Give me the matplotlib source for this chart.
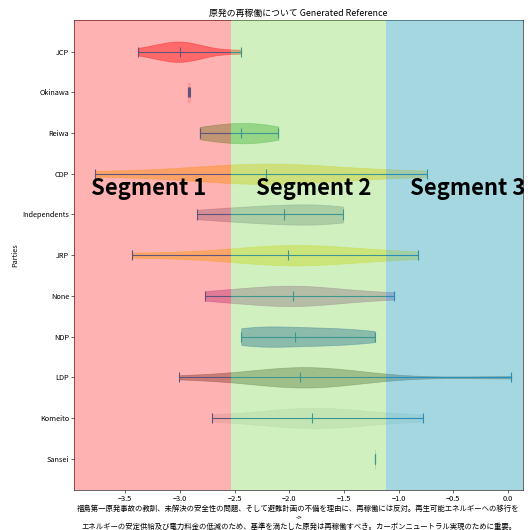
import matplotlib
matplotlib.use('Agg')
import matplotlib.pyplot as plt

plt.rcParams['font.family'] = ['Noto Sans CJK JP', 'DejaVu Sans']

# 政党ごとのスコア
parties = ['JCP', 'Okinawa', 'Reiwa', 'CDP', 'Independents', 'JRP',
           'None', 'NDP', 'LDP', 'Komeito', 'Sansei']
jcp = [-3.38, -3.2, -3.1, -3.05, -3.0, -2.97, -2.9, -2.8, -2.44]
okinawa = [-2.93, -2.91]
reiwa = [-2.82, -2.6, -2.44, -2.3, -2.1]
cdp = [-3.78, -2.6, -2.4, -2.21, -2.0, -1.8, -0.74]
independents = [-2.84, -2.5, -2.2, -2.05, -1.8, -1.6, -1.51]
jrp = [-3.44, -2.3, -2.1, -2.01, -1.8, -1.6, -0.82]
none = [-2.77, -2.4, -2.1, -1.97, -1.85, -1.6, -1.04]
ndp = [-2.44, -2.35, -2.2, -1.95, -1.7, -1.5, -1.22]
ldp = [-3.01, -2.5, -2.2, -2.05, -1.95, -1.9, -1.9, -1.85, -1.75, -1.65, -1.5, -1.3, 0.03]
komeito = [-2.71, -2.1, -1.9, -1.79, -1.6, -1.4, -0.78]
sansei = [-1.22]

body_colors = ['#ff3030', '#ffc0c0', '#4caf50', '#f9d12d', '#9199af', '#f5e12d',
               '#b165b5', '#2a5fc0', '#6a6a5c', '#d7e1db', '#999999']

# 背景のセグメント
seg_edges = [-4.5, -2.53, -1.115, 1.0]
seg_colors = ['#ff0000', '#79d44b', '#37a8bc']
seg_alphas = [0.3, 0.35, 0.45]
seg_labels = ['Segment 1', 'Segment 2', 'Segment 3']
seg_label_x = [-3.29, -1.78, -0.37]

xlabel = ('福島第一原発事故の教訓、未解決の安全性の問題、そして避難計画の不備を理由に、再稼働には反対。再生可能エネルギーへの移行を\n'
          '->\n'
          'エネルギーの安定供給及び電力料金の低減のため、基準を満たした原発は再稼働すべき。カーボンニュートラル実現のために重要。')

data = [jcp, okinawa, reiwa, cdp, independents, jrp, none, ndp, ldp, komeito, sansei]

fig, ax = plt.subplots(figsize=(10, 10), dpi=53)
fig.subplots_adjust(left=0.14, right=0.987, top=0.962, bottom=0.075)

parts = ax.violinplot(data, positions=range(1, len(data) + 1), orientation='horizontal',
                      widths=0.5, showmedians=True)
for body, c in zip(parts['bodies'], body_colors):
    body.set_facecolor(c)
    body.set_edgecolor(c)
    body.set_alpha(0.5)

# セグメントは上から半透明で重ねる
for i in range(3):
    ax.axvspan(seg_edges[i], seg_edges[i + 1], color=seg_colors[i], alpha=seg_alphas[i],
               lw=0, zorder=5)
    ax.text(seg_label_x[i], 4.35, seg_labels[i], fontsize=30, fontweight='bold',
            ha='center', va='center', zorder=6)

ax.set_yticks(range(1, len(parties) + 1))
ax.set_yticklabels(parties)
ax.invert_yaxis()
ax.set_xlim(-3.967, 0.137)

ax.set_title('原発の再稼働について Generated Reference')
ax.set_ylabel('Parties')
ax.set_xlabel(xlabel, labelpad=2)

fig.savefig('out.png', dpi=53)
